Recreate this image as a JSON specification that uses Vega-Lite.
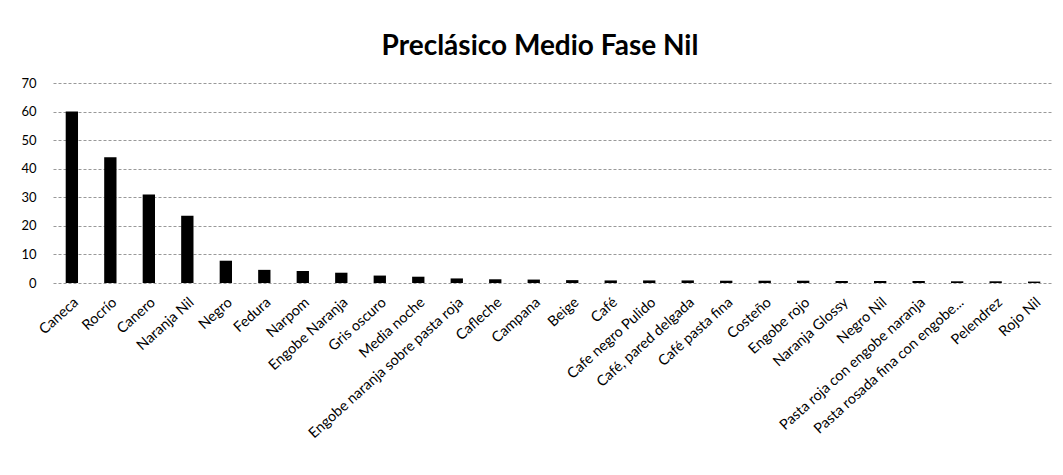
{
  "$schema": "https://vega.github.io/schema/vega-lite/v6.json",
  "width": 1000,
  "height": 200,
  "autosize": "none",
  "padding": {"left": 53, "top": 83, "right": 10, "bottom": 192},
  "background": "white",
  "title": {"text": "Preclásico Medio Fase Nil", "font": "Lato", "fontSize": 28, "fontWeight": "bold", "color": "#000", "anchor": "middle", "offset": 16, "dx": -13},
  "data": {"values": [
    {"tipo": "Caneca", "valor": 60},
    {"tipo": "Rocrío", "valor": 44},
    {"tipo": "Canero", "valor": 31},
    {"tipo": "Naranja Nil", "valor": 23.5},
    {"tipo": "Negro", "valor": 7.8},
    {"tipo": "Fedura", "valor": 4.6},
    {"tipo": "Narpom", "valor": 4.2},
    {"tipo": "Engobe Naranja", "valor": 3.6},
    {"tipo": "Gris oscuro", "valor": 2.6},
    {"tipo": "Media noche", "valor": 2.2},
    {"tipo": "Engobe naranja sobre pasta roja", "valor": 1.6},
    {"tipo": "Cafleche", "valor": 1.3},
    {"tipo": "Campana", "valor": 1.2},
    {"tipo": "Beige", "valor": 1.0},
    {"tipo": "Café", "valor": 0.9},
    {"tipo": "Cafe negro Pulido", "valor": 0.9},
    {"tipo": "Café, pared delgada", "valor": 0.9},
    {"tipo": "Café pasta fina", "valor": 0.8},
    {"tipo": "Costeño", "valor": 0.8},
    {"tipo": "Engobe rojo", "valor": 0.8},
    {"tipo": "Naranja Glossy", "valor": 0.7},
    {"tipo": "Negro Nil", "valor": 0.7},
    {"tipo": "Pasta roja con engobe naranja", "valor": 0.7},
    {"tipo": "Pasta rosada fina con engobe...", "valor": 0.6},
    {"tipo": "Pelendrez", "valor": 0.6},
    {"tipo": "Rojo Nil", "valor": 0.5}
  ]},
  "mark": {"type": "bar", "color": "#000000"},
  "encoding": {
    "x": {"field": "tipo", "type": "nominal", "sort": null, "title": null,
      "scale": {"paddingInner": 0.68, "paddingOuter": 0.33},
      "axis": {"labelAngle": -42, "labelFont": "Lato", "labelFontSize": 14.5, "labelColor": "#000", "ticks": false, "domain": false, "labelPadding": 12, "labelLimit": 300}},
    "y": {"field": "valor", "type": "quantitative", "title": null,
      "scale": {"domain": [0, 70], "nice": false},
      "axis": {"values": [0, 10, 20, 30, 40, 50, 60, 70], "labelFont": "Lato", "labelFontSize": 13, "labelColor": "#000", "ticks": false, "domain": false, "labelPadding": 17, "gridColor": "#999", "gridDash": [3, 2], "gridWidth": 1}}
  },
  "config": {"view": {"stroke": null}}
}
